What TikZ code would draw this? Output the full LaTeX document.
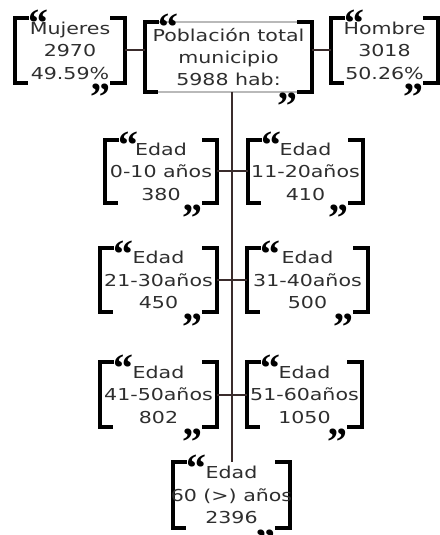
\documentclass[tikz,border=0pt]{standalone}
\usepackage{fontspec}
\setmainfont{DejaVu Sans}[FakeStretch=1.25]
\newfontfamily\qfont{Liberation Serif}
\definecolor{txtc}{HTML}{2E2E2E}
\definecolor{lnk}{HTML}{3A2C2C}
\tikzset{
  qshape/.style={rectangle, inner sep=0pt, outer sep=0pt},
  brk/.style={line width=4bp, black, line cap=butt, line join=miter},
  lbl/.style={align=center, text=txtc, font=\fontsize{16.5}{22.5}\selectfont, inner sep=0pt},
  qmark/.style={inner sep=0pt, font=\qfont\bfseries\fontsize{40}{40}\selectfont},
  link/.style={line width=2bp, lnk},
}
% optional style, name, x, y, w, h, text
\newcommand\qbox[7][]{%
  \node[qshape, #1, minimum width=#5bp, minimum height=#6bp] (#2) at (#3,#4) {};
  \draw[brk] ([xshift=14bp]#2.north west) -- (#2.north west) -- (#2.south west) -- ([xshift=13bp]#2.south west);
  \draw[brk] ([xshift=-15bp]#2.north east) -- (#2.north east) -- (#2.south east) -- ([xshift=-15bp]#2.south east);
  \node[qmark, anchor=base west] (#2-q1) at ([xshift=13bp,yshift=-19bp]#2.north west) {“};
  \node[qmark, anchor=base east] (#2-q2) at ([xshift=-14bp,yshift=-28bp]#2.south east) {”};
  \node[lbl] (#2-t) at (#2) {#7};
}
\begin{document}
\begin{tikzpicture}[x=1bp, y=-1bp]
\useasboundingbox (0,0) rectangle (440,535);
\qbox{mujeres}{70}{50.5}{110}{65}{Mujeres\\2970\\49.59\%}
\qbox[draw=gray!55, line width=1.2bp]{total}{228.5}{57}{167}{70}{Población total\\municipio\\5988 hab:}
\qbox{hombre}{384.5}{50.5}{107}{65}{Hombre\\3018\\50.26\%}
\qbox{l1}{161}{171.5}{112}{63}{Edad\\0-10 años\\380}
\qbox{r1}{305.5}{171.5}{115}{63}{Edad\\11-20años\\410}
\qbox{l2}{158.5}{280}{117}{64}{Edad\\21-30años\\450}
\qbox{r2}{307.5}{280}{121}{64}{Edad\\31-40años\\500}
\qbox{l3}{158.5}{394.5}{117}{65}{Edad\\41-50años\\802}
\qbox{r3}{304.5}{394.5}{115}{65}{Edad\\51-60años\\1050}
\qbox{bottom}{231.5}{495}{117}{66}{Edad\\60 (>) años\\2396}
\draw[link] (mujeres.east) -- (mujeres.east -| total.west);
\draw[link] (hombre.west -| total.east) -- (hombre.west);
\draw[link] (total.south -| bottom.north) -- (bottom.north);
\draw[link] (l1.east) -- (r1.west);
\draw[link] (l2.east) -- (r2.west);
\draw[link] (l3.east) -- (r3.west);
\end{tikzpicture}
\end{document}
